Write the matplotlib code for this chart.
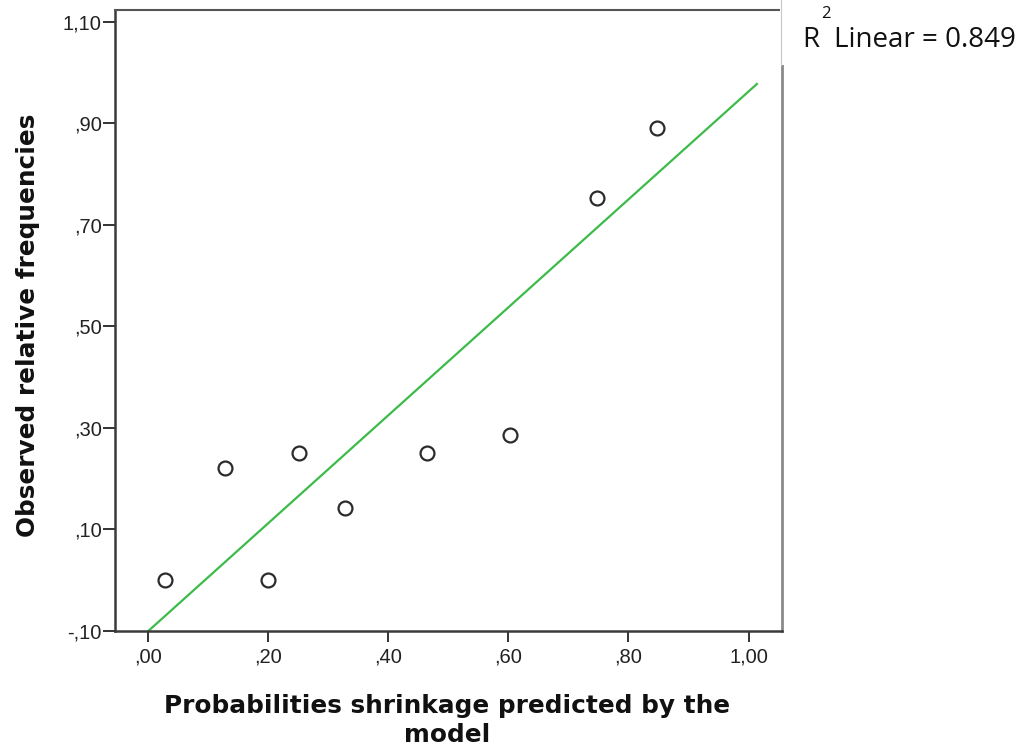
import matplotlib
matplotlib.use("Agg")
import matplotlib.pyplot as plt
from matplotlib.lines import Line2D
from matplotlib.patches import Rectangle
from matplotlib.ticker import FixedLocator, FuncFormatter

# predicted probability vs. observed relative frequency per group
pred = [0.027, 0.128, 0.199, 0.251, 0.328, 0.464, 0.603, 0.748, 0.847]
obs = [0.00, 0.222, 0.00, 0.250, 0.143, 0.251, 0.286, 0.753, 0.892]

# fitted linear line (intercept, slope) and its R squared
fit_intercept = -0.10
fit_slope = 1.063
fit_x_end = 1.014
r_squared = 0.849

x_ticks = [0.0, 0.2, 0.4, 0.6, 0.8, 1.0]
y_ticks = [-0.10, 0.10, 0.30, 0.50, 0.70, 0.90, 1.10]

plt.rcParams['font.family'] = ['Liberation Sans', 'DejaVu Sans']


def spss_fmt(v, pos=None):
    # SPSS style: decimal comma and no leading zero
    s = f"{abs(v):.2f}".replace('.', ',')
    if s.startswith('0'):
        s = s[1:]
    return ('-' if v < -1e-9 else '') + s


fig = plt.figure(figsize=(10.27, 7.53), dpi=100)
ax = fig.add_axes([115 / 1027, 1 - 631 / 753, (782 - 115) / 1027, (631 - 9.5) / 753])

ax.set_xlim(-0.0555, 1.0558)
ax.set_ylim(-0.10, 1.1246)

xs = [0.0, fit_x_end]
ys = [fit_intercept + fit_slope * v for v in xs]
ax.plot(xs, ys, color='#3dbb4a', lw=1.6, zorder=2)

ax.plot(pred, obs, ls='none', marker='o', ms=10, mfc='white',
        mec='#2b2b2b', mew=1.6, zorder=3)

ax.xaxis.set_major_locator(FixedLocator(x_ticks))
ax.yaxis.set_major_locator(FixedLocator(y_ticks))
ax.xaxis.set_major_formatter(FuncFormatter(spss_fmt))
ax.yaxis.set_major_formatter(FuncFormatter(spss_fmt))
ax.tick_params(axis='x', direction='out', length=8, width=1.4,
               color='#333333', labelsize=14.5, labelcolor='#222222', pad=4)
ax.tick_params(axis='y', direction='out', length=8.5, width=1.4,
               color='#333333', labelsize=14.5, labelcolor='#222222', pad=1)

for side in ['left', 'bottom']:
    ax.spines[side].set_color('#3a3a3a')
    ax.spines[side].set_linewidth(1.8)
ax.spines['top'].set_color('#555555')
ax.spines['top'].set_linewidth(1.5)
ax.spines['right'].set_color('#8a8a8a')
ax.spines['right'].set_linewidth(2.0)

label_kw = dict(fontsize=17.8, fontweight='bold', family='DejaVu Sans',
                color='#111111')
fig.text(447 / 1027, 1 - 706 / 753, 'Probabilities shrinkage predicted by the',
         ha='center', va='center', **label_kw)
fig.text(447 / 1027, 1 - 735 / 753, 'model', ha='center', va='center',
         **label_kw)
fig.text(28 / 1027, 1 - 325 / 753, 'Observed relative frequencies',
         ha='center', va='center', rotation=90, **label_kw)

# white label box over the top right corner of the frame
fig.patches.append(Rectangle((780 / 1027, 1 - 65 / 753), 1, 65 / 753,
                             transform=fig.transFigure, facecolor='white',
                             edgecolor='none', zorder=5))
fig.lines.append(Line2D([780.5 / 1027, 780.5 / 1027], [1 - 65 / 753, 1],
                        transform=fig.transFigure, color='#c8c8c8', lw=0.8,
                        zorder=6))
r2_kw = dict(family='Open Sans', color='#111111', zorder=7)
fig.text(802 / 1027, 1 - 40 / 753, 'R', ha='left', va='center',
         fontsize=20, **r2_kw)
fig.text(821 / 1027, 1 - 14 / 753, '2', ha='left', va='center',
         fontsize=12, **r2_kw)
fig.text(834 / 1027, 1 - 40 / 753, f'Linear = {r_squared:.3f}', ha='left',
         va='center', fontsize=20, **r2_kw)

fig.savefig('out.png', dpi=100, facecolor='white')
